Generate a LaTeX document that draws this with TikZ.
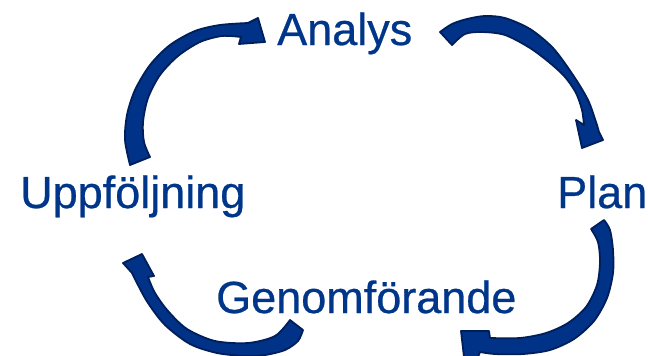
\documentclass[tikz,border=0pt]{standalone}
\usepackage{fontspec}
\setmainfont{Liberation Sans}
\newfontfamily\lblfont{Liberation Sans}[FakeBold=0.6]
\definecolor{txtblue}{RGB}{0,54,138}
\definecolor{arrowfill}{RGB}{0,50,135}
\definecolor{arrowedge}{RGB}{0,30,90}
\begin{document}
\begin{tikzpicture}[x=1pt,y=-1pt,
  label/.style={inner sep=0pt,anchor=base west,text=txtblue,font=\lblfont\fontsize{45}{50}\selectfont},
  curvedarrow/.style={fill=arrowfill,draw=arrowedge,line width=1.8pt,line join=round}]
\useasboundingbox (0,0) rectangle (648,356);
% labels
\node[label] (analys) at (277,45) {Analys};
\node[label] (plan) at (557,208) {Plan};
\node[label] (uppf) at (20,208) {Uppföljning};
\node[label] (genom) at (216,313) {Genomförande};
% arrow Uppföljning -> Analys
\path[curvedarrow]
  plot[smooth] coordinates {(130,165) (125,140) (127,115) (135,90) (150,65) (170,45) (195,31) (220,25) (248,23)}
  -- (258,18) -- (265,42) -- (239,44) -- (241,37)
  -- plot[smooth] coordinates {(241,37) (222,36) (200,42) (178,56) (160,75) (148,98) (143,122) (144,142) (150,157)}
  -- cycle;
% arrow Analys -> Plan
\path[curvedarrow]
  plot[smooth] coordinates {(440,32) (452,24) (467,19) (485,16) (505,18) (530,29) (553,48) (573,75) (588,100) (596,122) (599,132)}
  -- (603,140) -- (582,148) -- (576,120) -- (584,125)
  -- plot[smooth] coordinates {(584,125) (582,110) (576,93) (565,77) (550,63) (530,48) (505,35) (482,32) (465,34) (452,45)}
  -- cycle;
% arrow Plan -> Genomförande
\path[curvedarrow]
  plot[smooth] coordinates {(604,220) (610,230) (613,250) (613,273) (607,298) (594,321) (574,339) (550,350) (523,354) (495,354) (480,352)}
  -- (478,357) -- (464,357) -- (461,331) -- (489,331)
  -- plot[smooth] coordinates {(490,338) (520,338) (546,333) (568,323) (586,307) (597,285) (600,262) (598,242) (591,229)}
  -- cycle;
% arrow Genomförande -> Uppföljning
\path[curvedarrow]
  plot[smooth] coordinates {(303,330) (298,341) (285,350) (265,355) (245,356) (217,353) (190,344) (165,325) (148,303) (138,285) (132,273)}
  -- (123,263) -- (142,254) -- (154,276)
  -- plot[smooth] coordinates {(148,277) (155,293) (168,311) (187,329) (215,341) (248,343) (275,336) (290,320)}
  -- cycle;
\end{tikzpicture}
\end{document}
